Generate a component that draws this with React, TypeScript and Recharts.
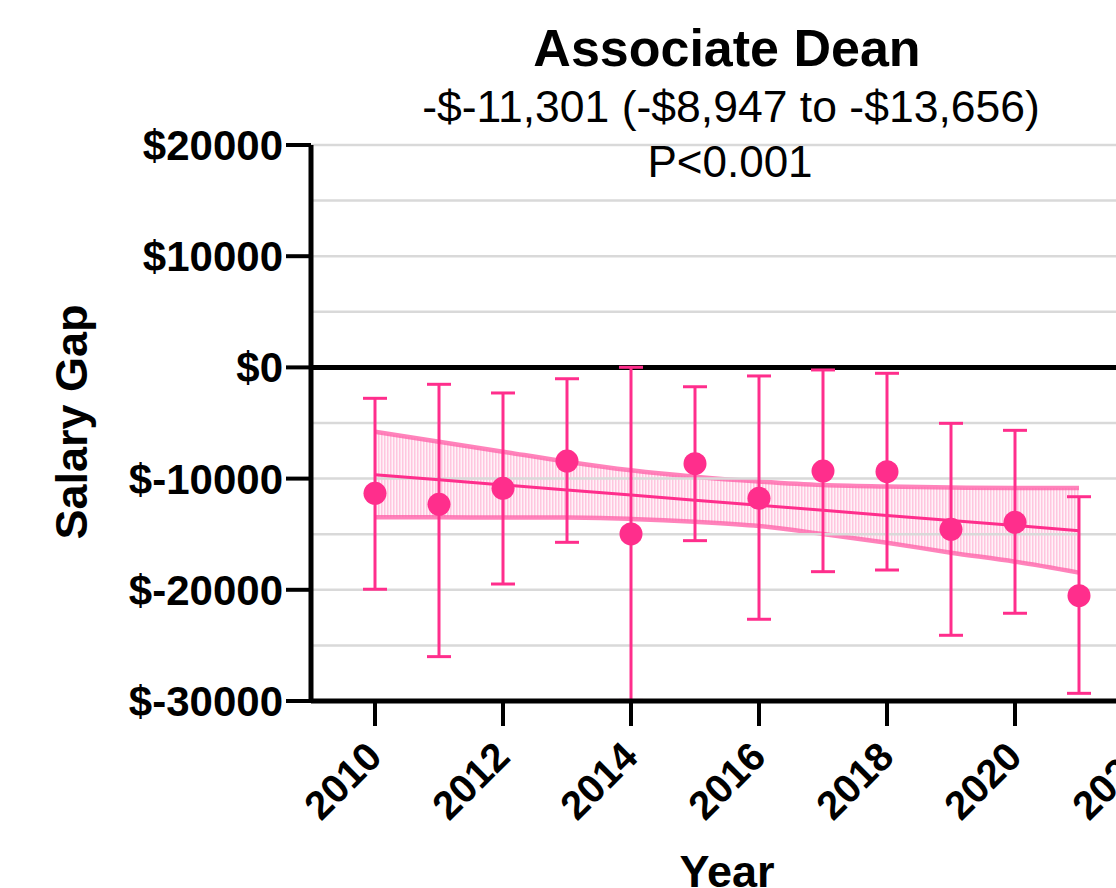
import { ComposedChart, Area, Line, XAxis, YAxis, ReferenceLine, ErrorBar } from "recharts"

const FONT = "'Liberation Sans', Arial, Helvetica, sans-serif"
const PINK = "#ff2e8c"

// yearly salary gap (mean and 95% CI)
const years = [2010, 2011, 2012, 2013, 2014, 2015, 2016, 2017, 2018, 2019, 2020, 2021]
const meanGap = [-11320, -12310, -10870, -8420, -14980, -8660, -11770, -9320, -9380, -14560, -13930, -20530]
const ciHigh = [-2780, -1520, -2300, -1020, 10, -1740, -770, -230, -530, -5030, -5660, -11630]
const ciLow = [-19950, -26010, -19480, -15730, -29950, -15580, -22650, -18370, -18220, -24090, -22110, -29310]

// regression line and its confidence band
const fitLine = [-9660, -10110, -10570, -11020, -11480, -11940, -12390, -12850, -13310, -13760, -14220, -14680]
const bandUpper = [-5780, -6680, -7580, -8480, -9250, -9830, -10260, -10580, -10710, -10800, -10850, -10850]
const bandLower = [-13480, -13480, -13500, -13500, -13630, -13880, -14260, -14980, -15770, -16660, -17470, -18460]

const yTicks = [-30000, -20000, -10000, 0, 10000, 20000]
const gridValues = [-25000, -20000, -15000, -10000, -5000, 5000, 10000, 15000, 20000]
const xTicks = [2010, 2012, 2014, 2016, 2018, 2020, 2022]

const data = years.map((year, i) => ({
  year,
  gap: meanGap[i],
  err: [meanGap[i] - ciLow[i], ciHigh[i] - meanGap[i]],
  band: [bandLower[i], bandUpper[i]],
  fit: fitLine[i],
}))

function YearTick({ x, y, payload }: any) {
  const ox = x + 9
  const oy = y + 31
  return (
    <text
      x={ox}
      y={oy}
      transform={`rotate(-45 ${ox} ${oy})`}
      textAnchor="end"
      fontSize={40}
      fontWeight="bold"
      fill="#000"
      fontFamily={FONT}
    >
      {payload.value}
    </text>
  )
}

export default function App() {
  return (
    <div
      style={{
        position: "fixed",
        left: 0,
        top: 0,
        width: 1116,
        height: 888,
        overflow: "hidden",
        background: "#fff",
      }}
    >
      <ComposedChart
        width={1200}
        height={888}
        data={data}
        margin={{ top: 145, right: 57, bottom: 0, left: 0 }}
      >
        <defs>
          <pattern id="hatch" width="3" height="6" patternUnits="userSpaceOnUse">
            <rect width="3" height="6" fill="#fff2f8" />
            <rect width="1.5" height="6" fill="#ffc6df" />
          </pattern>
        </defs>
        <XAxis
          type="number"
          dataKey="year"
          domain={[2009, 2022]}
          ticks={xTicks}
          interval={0}
          height={187}
          tickSize={25}
          axisLine={{ stroke: "#000", strokeWidth: 5 }}
          tickLine={{ stroke: "#000", strokeWidth: 4 }}
          tick={<YearTick />}
          label={{
            content: () => (
              <text x={727} y={887} textAnchor="middle" fontSize={45} fontWeight="bold" fontFamily={FONT} fill="#000">
                Year
              </text>
            ),
          }}
        />
        <YAxis
          type="number"
          domain={[-30000, 20000]}
          ticks={yTicks}
          interval={0}
          width={311}
          tickSize={25}
          tickMargin={3}
          allowDataOverflow
          tickFormatter={(v) => `$${v}`}
          axisLine={{ stroke: "#000", strokeWidth: 5 }}
          tickLine={{ stroke: "#000", strokeWidth: 4 }}
          tick={{ fontSize: 42, fontWeight: "bold", fill: "#000", fontFamily: FONT }}
          label={{
            content: () => (
              <text
                x={87}
                y={422}
                transform="rotate(-90 87 422)"
                textAnchor="middle"
                fontSize={45}
                fontWeight="bold"
                fontFamily={FONT}
                fill="#000"
              >
                Salary Gap
              </text>
            ),
          }}
        />
        {gridValues.map((v) => (
          <ReferenceLine key={v} y={v} stroke="#d9d9d9" strokeWidth={2.5} />
        ))}
        <ReferenceLine y={0} stroke="#000" strokeWidth={5} />
        <Area
          type="monotone"
          dataKey="band"
          stroke="#ff64aa"
          strokeOpacity={0.8}
          strokeWidth={4.5}
          fill="url(#hatch)"
          fillOpacity={1}
          isAnimationActive={false}
        />
        <Line
          type="linear"
          dataKey="fit"
          stroke={PINK}
          strokeWidth={3}
          dot={false}
          activeDot={false}
          isAnimationActive={false}
        />
        <Line
          type="linear"
          dataKey="gap"
          stroke="none"
          strokeWidth={0}
          dot={{ r: 11.5, fill: PINK, stroke: "none" }}
          activeDot={false}
          isAnimationActive={false}
        >
          <ErrorBar dataKey="err" direction="y" width={12} stroke={PINK} strokeWidth={3} />
        </Line>
      </ComposedChart>
      <svg
        width={1116}
        height={888}
        style={{ position: "absolute", left: 0, top: 0, pointerEvents: "none" }}
      >
        <text x={727} y={66} textAnchor="middle" fontSize={52} fontWeight="bold" fontFamily={FONT} fill="#000">
          Associate Dean
        </text>
        <text x={731} y={122} textAnchor="middle" fontSize={44.5} fontFamily={FONT} fill="#000">
          -$-11,301 (-$8,947 to -$13,656)
        </text>
        <text x={730} y={177} textAnchor="middle" fontSize={44} fontFamily={FONT} fill="#000">
          P&lt;0.001
        </text>
      </svg>
    </div>
  )
}
